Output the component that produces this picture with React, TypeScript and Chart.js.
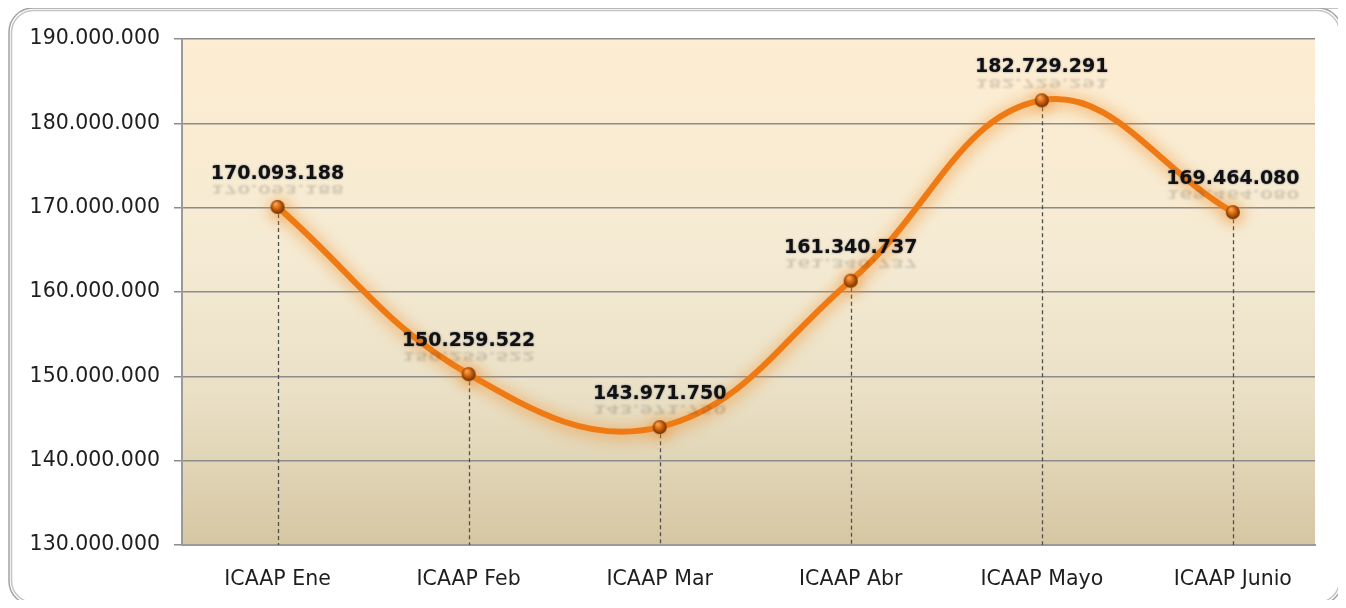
import React, { useEffect, useRef } from "react";
import { Chart, registerables } from "chart.js";

Chart.register(...registerables);

const categories = ["ICAAP Ene", "ICAAP Feb", "ICAAP Mar", "ICAAP Abr", "ICAAP Mayo", "ICAAP Junio"];
const values = [170093188, 150259522, 143971750, 161340737, 182729291, 169464080];
const yMin = 130000000;
const yMax = 190000000;
const yStep = 10000000;

const fmt = (v: number) => String(Math.round(v)).replace(/\B(?=(\d{3})+(?!\d))/g, ".");

function makeSphere(): HTMLCanvasElement {
  const c = document.createElement("canvas");
  c.width = 16;
  c.height = 16;
  const g = c.getContext("2d")!;
  const grad = g.createRadialGradient(6, 5, 1, 8, 8, 7.5);
  grad.addColorStop(0, "#F5A050");
  grad.addColorStop(0.45, "#D2620A");
  grad.addColorStop(1, "#5E2A00");
  g.fillStyle = grad;
  g.beginPath();
  g.arc(8, 8, 7, 0, Math.PI * 2);
  g.fill();
  return c;
}

const framePlugin = {
  id: "frameAndBg",
  beforeDraw(chart: any) {
    const { ctx, chartArea } = chart;
    ctx.save();
    ctx.fillStyle = "#ffffff";
    ctx.fillRect(0, 0, chart.width, chart.height);
    ctx.strokeStyle = "#a3a3a3";
    ctx.lineWidth = 1.5;
    ctx.beginPath();
    ctx.roundRect(9, 8, 1333, 597, 24);
    ctx.stroke();
    ctx.strokeStyle = "#c4c4c4";
    ctx.beginPath();
    ctx.roundRect(11.5, 10.5, 1328, 592, 22);
    ctx.stroke();
    ctx.strokeStyle = "#b0b0b0";
    ctx.beginPath();
    ctx.moveTo(1320, 8);
    ctx.lineTo(1346, 8);
    ctx.stroke();
    const grad = ctx.createLinearGradient(0, chartArea.top, 0, chartArea.bottom);
    grad.addColorStop(0, "#FDEDD2");
    grad.addColorStop(0.45, "#F4EAD3");
    grad.addColorStop(0.7, "#EAE0C6");
    grad.addColorStop(1, "#D6C7A3");
    ctx.fillStyle = grad;
    ctx.fillRect(chartArea.left, chartArea.top, chartArea.right - chartArea.left, chartArea.bottom - chartArea.top);
    ctx.restore();
  },
  beforeDatasetsDraw(chart: any) {
    const { ctx, chartArea } = chart;
    const meta = chart.getDatasetMeta(0);
    ctx.save();
    ctx.strokeStyle = "#505050";
    ctx.lineWidth = 1.3;
    ctx.setLineDash([4, 3]);
    meta.data.forEach((pt: any) => {
      ctx.beginPath();
      ctx.moveTo(Math.round(pt.x) + 0.5, pt.y);
      ctx.lineTo(Math.round(pt.x) + 0.5, chartArea.bottom);
      ctx.stroke();
    });
    ctx.restore();
  },
  beforeDatasetDraw(chart: any) {
    const ctx = chart.ctx;
    ctx.save();
    ctx.shadowColor = "rgba(240,135,30,0.95)";
    ctx.shadowBlur = 16;
    ctx.shadowOffsetX = 1;
    ctx.shadowOffsetY = 2;
  },
  afterDatasetDraw(chart: any) {
    chart.ctx.restore();
  },
  afterDatasetsDraw(chart: any) {
    const { ctx } = chart;
    const meta = chart.getDatasetMeta(0);
    const ds = chart.data.datasets[0].data;
    ctx.save();
    ctx.font = "bold 19px 'DejaVu Sans'";
    ctx.textAlign = "center";
    ctx.textBaseline = "middle";
    meta.data.forEach((pt: any, i: number) => {
      const txt = fmt(ds[i].y);
      const x = pt.x;
      const y = pt.y - 33;
      ctx.save();
      ctx.globalAlpha = 0.16;
      ctx.translate(x, y + 7);
      ctx.scale(1, -0.6);
      ctx.fillStyle = "#202020";
      ctx.filter = "blur(1.2px)";
      ctx.fillText(txt, 0, -12);
      ctx.restore();
      ctx.save();
      ctx.shadowColor = "rgba(20,40,90,0.55)";
      ctx.shadowBlur = 2;
      ctx.fillStyle = "#111111";
      ctx.fillText(txt, x, y);
      ctx.restore();
    });
    ctx.restore();
  },
};

export default function App() {
  const ref = useRef<HTMLCanvasElement | null>(null);
  useEffect(() => {
    if (!ref.current) return;
    const sphere = makeSphere();
    const chart = new Chart(ref.current, {
      type: "line",
      data: {
        datasets: [
          {
            data: values.map((v, i) => ({ x: i, y: v })),
            borderColor: "#EF7A14",
            borderWidth: 6,
            tension: 0.4,
            fill: false,
            pointStyle: sphere as any,
            pointRadius: 8,
            pointHoverRadius: 8,
          },
        ],
      },
      options: {
        animation: false,
        responsive: false,
        devicePixelRatio: 1,
        events: [],
        layout: { padding: { left: 0, right: 31, top: 39, bottom: 0 } },
        plugins: { legend: { display: false }, tooltip: { enabled: false }, title: { display: false } },
        scales: {
          x: {
            type: "linear",
            min: -0.5,
            max: 5.43,
            afterBuildTicks: (s: any) => {
              s.ticks = categories.map((_, i) => ({ value: i }));
            },
            afterFit: (s: any) => {
              s.height = 63;
            },
            ticks: {
              callback: (v: any) => categories[Math.round(Number(v))] ?? "",
              font: { family: "'DejaVu Sans'", size: 20.5 },
              color: "#1e1e1e",
              padding: 22,
              maxRotation: 0,
              autoSkip: false,
            },
            grid: { display: false, drawTicks: false },
            border: { display: true, color: "#9a9a9a", width: 2 },
          },
          y: {
            min: yMin,
            max: yMax,
            afterFit: (s: any) => {
              s.width = 182;
            },
            ticks: {
              stepSize: yStep,
              callback: (v: any) => fmt(Number(v)),
              font: { family: "'DejaVu Sans'", size: 20.5 },
              color: "#1e1e1e",
              padding: 14,
            },
            grid: { color: "#8c8c8c", lineWidth: 1.5, tickLength: 8 },
            border: { display: true, color: "#9a9a9a", width: 2 },
          },
        },
      },
      plugins: [framePlugin],
    });
    return () => chart.destroy();
  }, []);
  return (
    <div style={{ margin: -8, width: 1346, height: 608 }}>
      <canvas ref={ref} width={1346} height={608} style={{ display: "block" }} />
    </div>
  );
}
